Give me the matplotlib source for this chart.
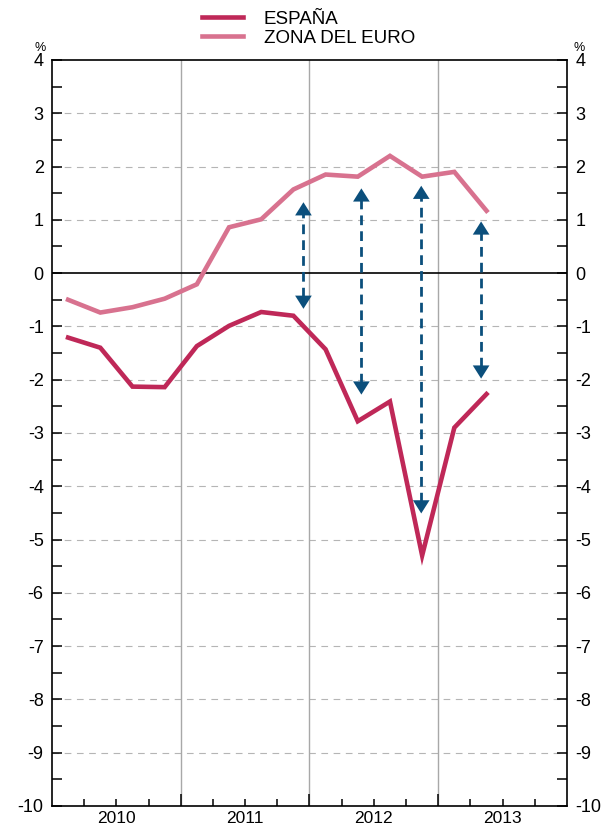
import matplotlib.pyplot as plt
import numpy as np
from matplotlib.ticker import MultipleLocator, FixedLocator, NullFormatter

plt.rcParams['font.family'] = ['Liberation Sans', 'DejaVu Sans']
plt.rcParams['axes.unicode_minus'] = False

# quarterly data, 2010 Q1 - 2013 Q2 (points at mid quarter)
quarters = 2010.125 + 0.25 * np.arange(14)
espana = [-1.21, -1.40, -2.13, -2.14, -1.37, -0.99, -0.73, -0.80,
          -1.43, -2.78, -2.41, -5.30, -2.90, -2.27]
zona_euro = [-0.50, -0.74, -0.64, -0.48, -0.21, 0.86, 1.01, 1.57,
             1.85, 1.81, 2.20, 1.81, 1.90, 1.17]

years = [2010, 2011, 2012, 2013]

# gap arrows: x position, top tip, bottom tip
arrow_x = [2011.953, 2012.403, 2012.868, 2013.333]
arrow_top = [1.33, 1.59, 1.64, 0.97]
arrow_bottom = [-0.67, -2.28, -4.51, -1.98]

col_es = '#bf2858'
col_eu = '#d8728f'
col_arrow = '#0b4f7c'

fig = plt.figure(figsize=(6.09, 8.34), dpi=100)
ax = fig.add_axes([0.0854, 0.0336, 0.8456, 0.8945])

ax.set_xlim(2010, 2014)
ax.set_ylim(-10, 4)

# grid
for yv in range(-9, 4):
    if yv == 0:
        continue
    ax.axhline(yv, color='#b5b5b5', lw=0.8, ls=(0, (6, 5)), zorder=1)
for xv in years[1:]:
    ax.axvline(xv, color='#a8a8a8', lw=1.0, zorder=1)
ax.axhline(0, color='black', lw=1.2, zorder=2)

ax.plot(quarters, zona_euro, color=col_eu, lw=3.3, label='ZONA DEL EURO',
        solid_joinstyle='miter', zorder=3)
ax.plot(quarters, espana, color=col_es, lw=3.3, label='ESPAÑA',
        solid_joinstyle='miter', zorder=4)

# dashed double arrows
head = 0.24
for x, t, b in zip(arrow_x, arrow_top, arrow_bottom):
    ax.plot([x, x], [b + head * 0.9, t - head * 0.9], color=col_arrow, lw=2.0,
            ls=(0, (3.5, 2.2)), zorder=5)
    for tip, sgn in ((t, -1), (b, 1)):
        ax.annotate('', xy=(x, tip), xytext=(x, tip + sgn * 0.01),
                    arrowprops=dict(arrowstyle='-|>,head_length=9.5,head_width=6',
                                    mutation_scale=1, color=col_arrow, lw=0,
                                    shrinkA=0, shrinkB=0), zorder=6)

# axes styling
for s in ax.spines.values():
    s.set_linewidth(1.2)
    s.set_color('black')

ax.yaxis.set_major_locator(MultipleLocator(1))
ax.yaxis.set_minor_locator(MultipleLocator(0.5))
ax.tick_params(axis='y', which='both', direction='in', length=7, width=1.1,
               left=True, right=True, labelleft=True, labelright=True,
               labelsize=13, pad=6)

ax.xaxis.set_major_locator(FixedLocator([2011, 2012, 2013]))
ax.xaxis.set_major_formatter(NullFormatter())
ax.xaxis.set_minor_locator(FixedLocator([y + q * 0.25 for y in years for q in (1, 2, 3)]))
ax.tick_params(axis='x', which='major', direction='in', length=9, width=1.1)
ax.tick_params(axis='x', which='minor', direction='in', length=5, width=1.1)
for y in years:
    ax.text(y + 0.5, -10.1, str(y), ha='center', va='top', fontsize=12.5)

ax.text(-0.012, 1.008, '%', transform=ax.transAxes, ha='right', va='bottom', fontsize=9)
ax.text(1.012, 1.008, '%', transform=ax.transAxes, ha='left', va='bottom', fontsize=9)

h, l = ax.get_legend_handles_labels()
fig.legend(h[::-1], l[::-1], loc='upper left', bbox_to_anchor=(0.31, 1.003),
           frameon=False, fontsize=13.5, handlelength=2.2, handletextpad=1.1,
           labelspacing=0.1, borderpad=0.2)

fig.savefig('out.png', dpi=100)
